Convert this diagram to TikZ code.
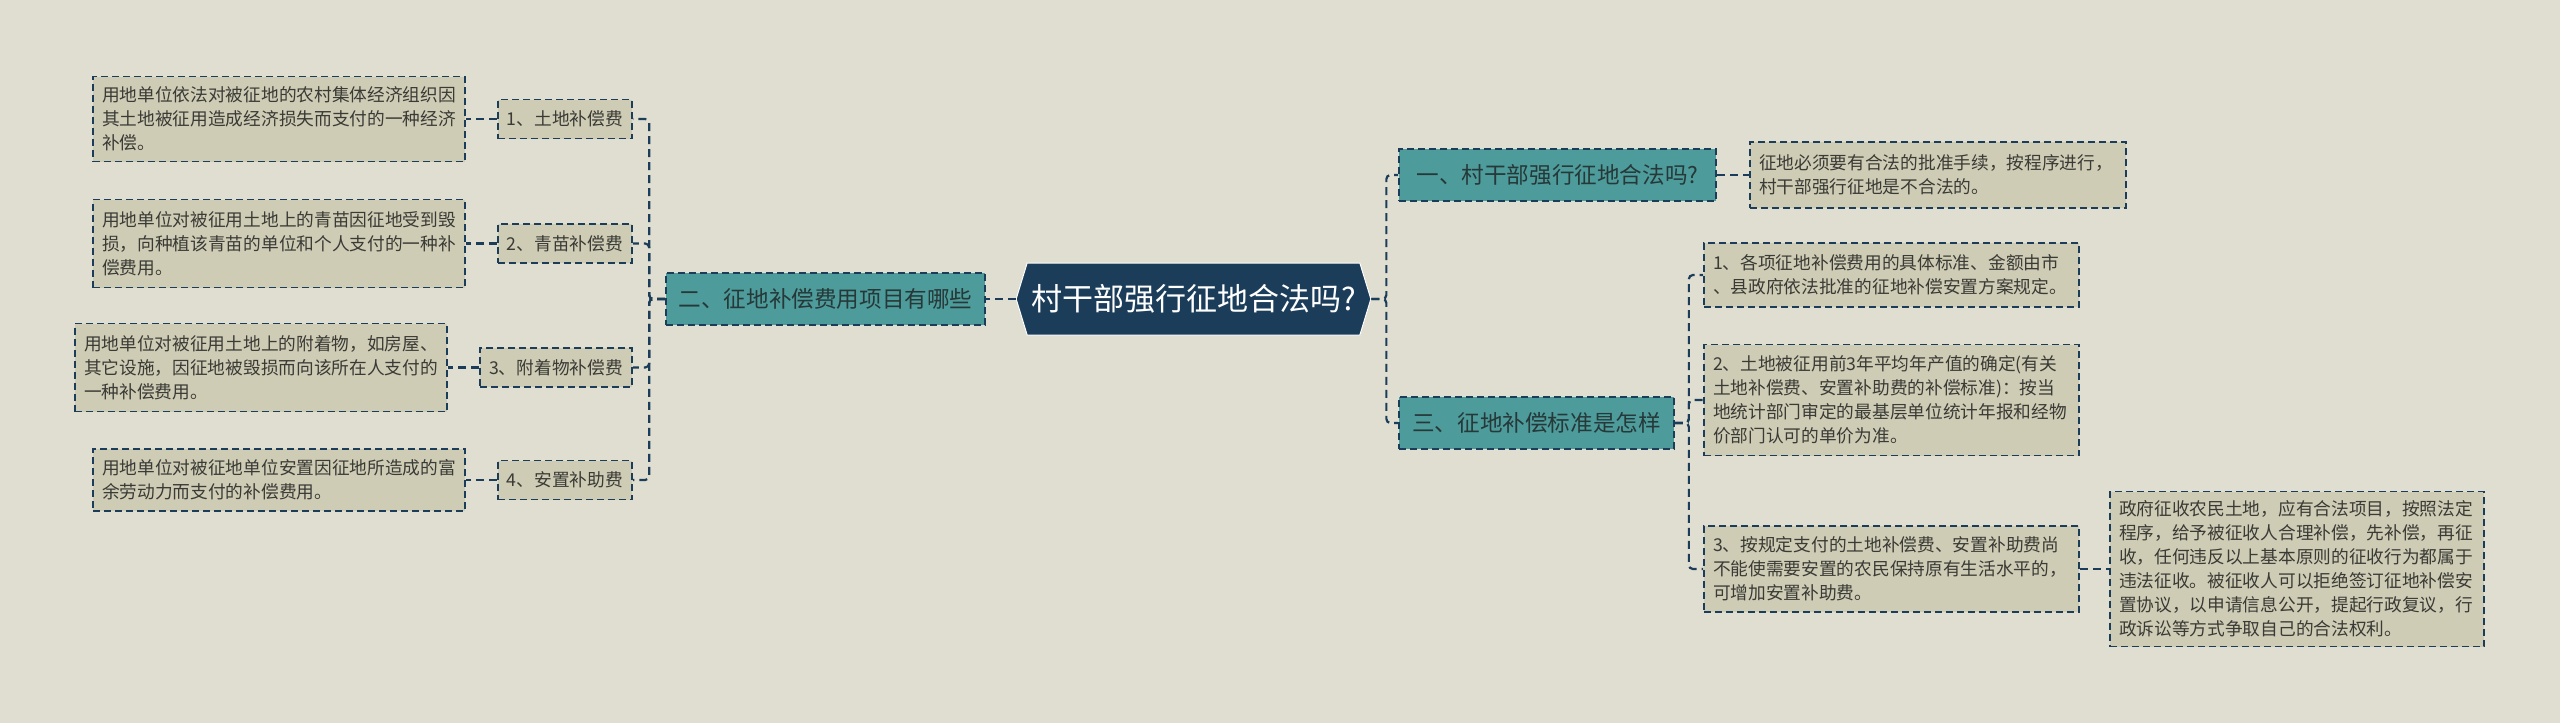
\documentclass[tikz,border=0pt]{standalone}
\usepackage{fontspec}
\setmainfont{Noto Sans CJK SC}
\usetikzlibrary{shapes.symbols}
\definecolor{bg}{HTML}{DFDED0}
\definecolor{navy}{HTML}{1C3D5A}
\definecolor{teal2}{HTML}{4E9B9B}
\definecolor{leaffill}{HTML}{CECCB4}
\definecolor{txt}{HTML}{3A3A36}
\definecolor{tealtxt}{HTML}{263838}
\tikzset{
  conn/.style={draw=navy, line width=2.2pt, dash pattern=on 8pt off 5pt, rounded corners=4pt},
  leaf/.style={draw=navy, line width=1.7pt, dash pattern=on 7pt off 4pt, fill=leaffill,
    text=txt, font=\fontsize{17.7}{24}\selectfont, align=left, inner xsep=9pt, inner ysep=5pt,
    text width=#1},
  item/.style={draw=navy, line width=1.7pt, dash pattern=on 7pt off 4pt, fill=leaffill,
    text=txt, font=\fontsize{17.7}{22}\selectfont, minimum height=39pt, minimum width=#1, inner xsep=6pt},
  branch/.style={draw=navy, line width=1.7pt, dash pattern=on 7pt off 4pt, fill=teal2,
    text=tealtxt, font=\fontsize{22.6}{27}\selectfont, minimum height=52pt, minimum width=#1},
  rootnode/.style={shape=signal, signal to=west and east, signal pointer angle=146,
    fill=navy, draw=white, line width=1pt, text=white, font=\fontsize{31}{37}\selectfont,
    minimum height=72pt, minimum width=327pt, inner sep=4pt}
}
\begin{document}
\begin{tikzpicture}[x=1pt,y=-1pt]
\fill[bg] (0,0) rectangle (2560,723);
\useasboundingbox (0,0) rectangle (2560,723);

\node[rootnode] (root) at (1193.5,299) {村干部强行征地合法吗?};

\node[branch=319pt] (b2) at (825.5,299) {二、征地补偿费用项目有哪些};
\node[branch=317pt] (b1) at (1557.5,175) {一、村干部强行征地合法吗?};
\node[branch=275pt] (b3) at (1536.5,423) {三、征地补偿标准是怎样};

\node[item=134pt] (c1) at (565,119) {1、土地补偿费};
\node[item=134pt] (c2) at (565,243.5) {2、青苗补偿费};
\node[item=152pt] (c3) at (556,367.5) {3、附着物补偿费};
\node[item=134pt] (c4) at (565,480) {4、安置补助费};

\node[leaf=354pt, minimum height=85pt] (l1) at (279,119) {用地单位依法对被征地的农村集体经济组织因\\其土地被征用造成经济损失而支付的一种经济\\补偿。};
\node[leaf=354pt, minimum height=88pt] (l2) at (279,243.5) {用地单位对被征用土地上的青苗因征地受到毁\\损，向种植该青苗的单位和个人支付的一种补\\偿费用。};
\node[leaf=354pt, minimum height=88pt] (l3) at (261,367.5) {用地单位对被征用土地上的附着物，如房屋、\\其它设施，因征地被毁损而向该所在人支付的\\一种补偿费用。};
\node[leaf=354pt, minimum height=62pt] (l4) at (279,480) {用地单位对被征地单位安置因征地所造成的富\\余劳动力而支付的补偿费用。};

\node[leaf=358pt, minimum height=66pt] (r1) at (1938,175) {征地必须要有合法的批准手续，按程序进行，\\村干部强行征地是不合法的。};

\node[leaf=357pt, minimum height=64pt] (s1) at (1891.5,275) {1、各项征地补偿费用的具体标准、金额由市\\、县政府依法批准的征地补偿安置方案规定。};
\node[leaf=357pt, minimum height=111pt] (s2) at (1891.5,400) {2、土地被征用前3年平均年产值的确定(有关\\土地补偿费、安置补助费的补偿标准)：按当\\地统计部门审定的最基层单位统计年报和经物\\价部门认可的单价为准。};
\node[leaf=357pt, minimum height=86pt] (s3) at (1891.5,569) {3、按规定支付的土地补偿费、安置补助费尚\\不能使需要安置的农民保持原有生活水平的，\\可增加安置补助费。};
\node[leaf=356pt, minimum height=155pt] (t1) at (2297,569) {政府征收农民土地，应有合法项目，按照法定\\程序，给予被征收人合理补偿，先补偿，再征\\收，任何违反以上基本原则的征收行为都属于\\违法征收。被征收人可以拒绝签订征地补偿安\\置协议，以申请信息公开，提起行政复议，行\\政诉讼等方式争取自己的合法权利。};

% connectors
\draw[conn] (root.west) -- (b2.east);
\foreach \c in {c1,c2,c3,c4}
  \draw[conn] (b2.west) -- ++(-16,0) |- (\c.east);
\draw[conn] (c1.west) -- (l1.east);
\draw[conn] (c2.west) -- (l2.east);
\draw[conn] (c3.west) -- (l3.east);
\draw[conn] (c4.west) -- (l4.east);
\foreach \c in {b1,b3}
  \draw[conn] (root.east) -- ++(15,0) |- (\c.west);
\draw[conn] (b1.east) -- (r1.west);
\foreach \c in {s1,s2,s3}
  \draw[conn] (b3.east) -- ++(14,0) |- (\c.west);
\draw[conn] (s3.east) -- (t1.west);
\end{tikzpicture}
\end{document}
